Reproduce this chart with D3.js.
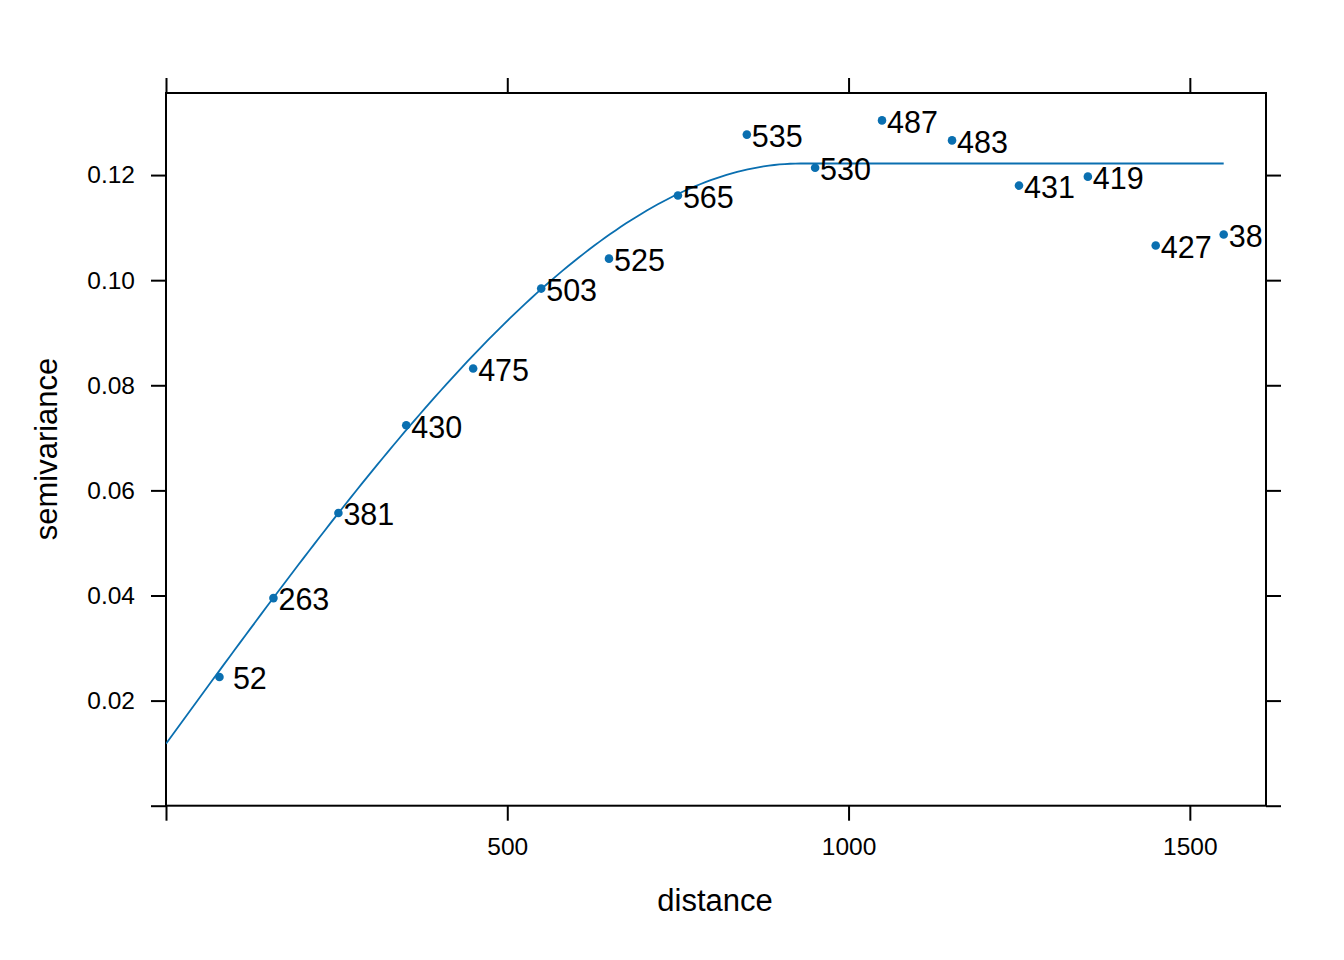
<!DOCTYPE html>
<html>
<head>
<meta charset="utf-8">
<script src="https://cdn.jsdelivr.net/npm/d3@7"></script>
<style>
  html, body { margin: 0; padding: 0; background: #fff; }
  svg { display: block; }
  text { font-family: "Liberation Sans", Arial, sans-serif; }
</style>
</head>
<body>
<svg id="chart" width="1344" height="960"></svg>
<script>
// ---- data ----
const distance = [78.3, 157.4, 252.6, 352.0, 450.0, 549.7, 649.0, 750.0, 851.0, 951.0, 1049.0, 1151.6, 1249.7, 1350.6, 1450.0, 1549.6];
const gamma    = [0.0245, 0.0395, 0.0557, 0.0724, 0.0832, 0.0984, 0.1041, 0.1161, 0.1277, 0.1214, 0.1304, 0.1266, 0.1180, 0.1197, 0.1066, 0.1087];
const npLabels = [" 52", "263", "381", "430", "475", "503", "525", "565", "535", "530", "487", "483", "431", "419", "427", "38"];
// fitted spherical model parameters (nugget, partial sill, range)
const modelNugget = 0.0118;
const modelPsill  = 0.1104;
const modelRange  = 930;
const xTicks = [0, 500, 1000, 1500];
const xTickLabels = ["", "500", "1000", "1500"];
const yTicks = [0, 0.02, 0.04, 0.06, 0.08, 0.10, 0.12];
const yTickLabels = ["", "0.02", "0.04", "0.06", "0.08", "0.10", "0.12"];

const col = "#0a6fb0";
const svg = d3.select("#chart");
const L = 166, R = 1266, T = 93, B = 805.7;

const x = d3.scaleLinear().domain([0, 1.04 * d3.max(distance)]).range([L, R]);
const y = d3.scaleLinear().domain([0, 1.04 * d3.max(gamma)]).range([B, T]);

function sph(h) {
  if (h >= modelRange) return modelNugget + modelPsill;
  const t = h / modelRange;
  return modelNugget + modelPsill * (1.5 * t - 0.5 * t * t * t);
}

// axes (ticks outward on all four sides)
const tickLen = 15;
function styleAxis(g) {
  g.select(".domain").remove();
  g.selectAll(".tick line").attr("stroke", "#000").attr("stroke-width", 2);
  g.selectAll(".tick text").attr("fill", "#000").attr("font-size", 24.5)
    .style("font-family", '"Liberation Sans", Arial, sans-serif');
}
svg.append("g").attr("transform", `translate(${L},0)`)
  .call(d3.axisLeft(y).tickValues(yTicks).tickSize(tickLen).tickPadding(16)
    .tickFormat((d, i) => yTickLabels[i]))
  .call(styleAxis);
svg.append("g").attr("transform", `translate(${R},0)`)
  .call(d3.axisRight(y).tickValues(yTicks).tickSize(tickLen).tickFormat(""))
  .call(styleAxis);
svg.append("g").attr("transform", `translate(0,${B})`)
  .call(d3.axisBottom(x).tickValues(xTicks).tickSize(tickLen).tickPadding(17)
    .tickFormat((d, i) => xTickLabels[i]))
  .call(styleAxis);
svg.append("g").attr("transform", `translate(0,${T})`)
  .call(d3.axisTop(x).tickValues(xTicks).tickSize(tickLen).tickFormat(""))
  .call(styleAxis);

// frame
svg.append("rect").attr("x", L).attr("y", T).attr("width", R - L).attr("height", B - T)
  .attr("fill", "none").attr("stroke", "#000").attr("stroke-width", 2);

// clip
svg.append("clipPath").attr("id", "panel").append("rect")
  .attr("x", L).attr("y", T).attr("width", R - L).attr("height", B - T);
const p = svg.append("g").attr("clip-path", "url(#panel)");

// model line
const hs = d3.range(0, 201).map(i => i / 200 * d3.max(distance));
p.append("path")
  .datum(hs)
  .attr("d", d3.line().x(h => x(h)).y(h => y(sph(h))))
  .attr("fill", "none").attr("stroke", col).attr("stroke-width", 1.8);

// points
p.selectAll("circle").data(distance).join("circle")
  .attr("cx", d => x(d)).attr("cy", (d, i) => y(gamma[i]))
  .attr("r", 4.3).attr("fill", col);

// labels
p.selectAll("text.np").data(npLabels).join("text")
  .attr("class", "np")
  .attr("x", (d, i) => x(distance[i]) + 5)
  .attr("y", (d, i) => y(gamma[i]) + 12.3)
  .attr("font-size", 30.5)
  .style("white-space", "pre")
  .attr("fill", "#000")
  .text(d => d);

// axis titles
svg.append("text").attr("x", 715).attr("y", 911).attr("text-anchor", "middle")
  .attr("font-size", 31).text("distance");
svg.append("text").attr("transform", "translate(57,449) rotate(-90)")
  .attr("text-anchor", "middle").attr("font-size", 31).text("semivariance");
</script>
</body>
</html>
